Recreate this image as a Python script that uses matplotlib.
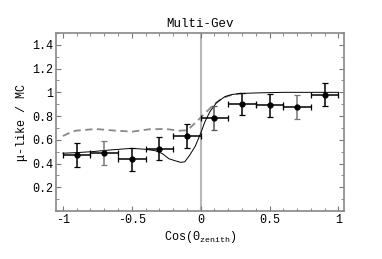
import matplotlib
matplotlib.use("Agg")
import matplotlib.pyplot as plt
from matplotlib.ticker import MultipleLocator, FixedLocator, FixedFormatter

# data
x_pts = [-0.9, -0.7, -0.5, -0.3, -0.1, 0.1, 0.3, 0.5, 0.7, 0.9]
y_pts = [0.47, 0.49, 0.435, 0.525, 0.63, 0.785, 0.90, 0.89, 0.875, 0.98]
y_err = [0.10, 0.10, 0.10, 0.097, 0.10, 0.10, 0.095, 0.10, 0.10, 0.095]
x_err = [0.1] * 10
verr_colors = ['black', '#777777', 'black', 'black', 'black', '#555555', 'black', 'black', '#777777', 'black']

solid_x = [-1.0, -0.9, -0.79, -0.65, -0.5, -0.4, -0.33, -0.28, -0.23, -0.19, -0.145, -0.115,
           -0.08, -0.04, 0.0, 0.03, 0.067, 0.115, 0.176, 0.23, 0.285, 0.4, 0.6, 1.0]
solid_y = [0.487, 0.492, 0.50, 0.515, 0.528, 0.52, 0.508, 0.485, 0.44, 0.425, 0.41, 0.415,
           0.47, 0.545, 0.655, 0.75, 0.837, 0.913, 0.964, 0.982, 0.99, 0.995, 1.0, 1.0]

dash_x = [-1.0, -0.95, -0.907, -0.762, -0.616, -0.495, -0.374, -0.253, -0.156, -0.10,
          -0.078, -0.018, 0.043, 0.091, 0.15, 0.2, 0.25, 0.3]
dash_y = [0.632, 0.66, 0.677, 0.691, 0.677, 0.669, 0.689, 0.691, 0.677, 0.68,
          0.70, 0.767, 0.837, 0.893, 0.945, 0.97, 0.985, 0.99]

x_ticks = [-1, -0.5, 0, 0.5, 1]
x_ticklabels = ['-1', '-0.5', '0', '0.5', '1']
y_ticks = [0.2, 0.4, 0.6, 0.8, 1.0, 1.2, 1.4]
y_ticklabels = ['0.2', '0.4', '0.6', '0.8', '1', '1.2', '1.4']

plt.rcParams['font.family'] = ['Liberation Mono', 'DejaVu Sans Mono', 'DejaVu Sans']
plt.rcParams['mathtext.fontset'] = 'custom'
plt.rcParams['mathtext.rm'] = 'Liberation Mono'
plt.rcParams['mathtext.it'] = 'Liberation Mono'

fig = plt.figure(figsize=(3.82, 2.59), dpi=100)
ax = fig.add_axes([0.1466, 0.1853, 0.7539, 0.6873])

ax.axvline(0, color='#b8b8b8', lw=1.5, zorder=1)
ax.plot(dash_x, dash_y, color='#888888', lw=1.3, ls=(0, (4, 2.5)), zorder=2)
ax.plot(solid_x, solid_y, color='black', lw=0.7, zorder=3)

for xi, yi, xe, ye, c in zip(x_pts, y_pts, x_err, y_err, verr_colors):
    ax.errorbar([xi], [yi], xerr=[xe], fmt='none', ecolor='black', elinewidth=1.1,
                capsize=2, capthick=0.9, zorder=4)
    ax.errorbar([xi], [yi], yerr=[ye], fmt='none', ecolor=c, elinewidth=1.1,
                capsize=2.2, capthick=0.9, zorder=4)
ax.plot(x_pts, y_pts, 'o', color='black', ms=3.5, zorder=5)

ax.set_xlim(-1.05, 1.04)
ax.set_ylim(0, 1.5)

ax.xaxis.set_major_locator(FixedLocator(x_ticks))
ax.xaxis.set_major_formatter(FixedFormatter(x_ticklabels))
ax.xaxis.set_minor_locator(MultipleLocator(0.1))
ax.yaxis.set_major_locator(FixedLocator(y_ticks))
ax.yaxis.set_major_formatter(FixedFormatter(y_ticklabels))
ax.yaxis.set_minor_locator(MultipleLocator(0.1))

ax.tick_params(which='both', direction='in', top=True, right=True, colors='#777777',
               labelcolor='black', labelsize=8.5, pad=2)
ax.tick_params(which='major', length=3.5, width=0.8)
ax.tick_params(which='minor', length=2, width=0.6)
for s in ax.spines.values():
    s.set_color('#888888')
    s.set_linewidth(1.2)

ax.set_title('Multi-Gev', fontsize=9, pad=4)
ax.set_xlabel(r'Cos($\Theta_{\rm zenith}$)', fontsize=8.5, labelpad=2)
ax.set_ylabel('μ-like / MC', fontsize=8.5, labelpad=3)

fig.savefig('out.png', dpi=100)
